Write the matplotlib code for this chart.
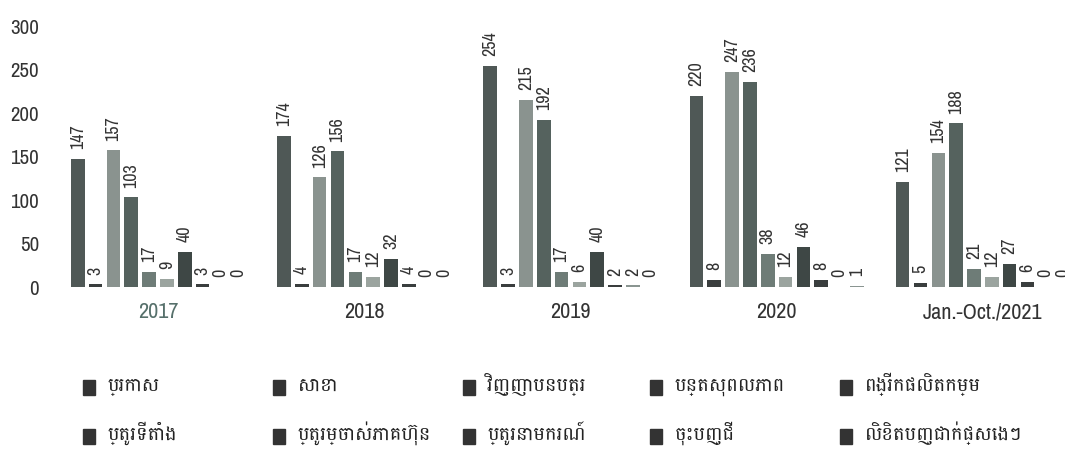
import numpy as np
import matplotlib
matplotlib.use('Agg')
import matplotlib.pyplot as plt
from matplotlib.patches import Rectangle

# categories (years) and the ten request types
years = ['2017', '2018', '2019', '2020', 'Jan.-Oct./2021']
labels = ['ប្រកាស', 'សាខា', 'វិញ្ញាបនបត្រ', 'បន្តសុពលភាព', 'ពង្រីកផលិតកម្ម',
          'ប្តូរទីតាំង', 'ប្តូរម្ចាស់ភាគហ៊ុន', 'ប្តូរនាមករណ៍', 'ចុះបញ្ជី', 'លិខិតបញ្ជាក់ផ្សេងៗ']

prakas = [147, 174, 254, 220, 121]
sakha = [3, 4, 3, 8, 5]
vinhhaban = [157, 126, 215, 247, 154]
bantsopol = [103, 156, 192, 236, 188]
pongrik = [17, 17, 17, 38, 21]
pdoteytang = [9, 12, 6, 12, 12]
pdomchas = [40, 32, 40, 46, 27]
pdonameakor = [3, 4, 2, 8, 6]
chohbanhchi = [0, 0, 2, 0, 0]
lekhet = [0, 0, 0, 1, 0]

series = [prakas, sakha, vinhhaban, bantsopol, pongrik,
          pdoteytang, pdomchas, pdonameakor, chohbanhchi, lekhet]
colors = ['#4f5856', '#3a3e3e', '#8a938f', '#55625e', '#6e7c77',
          '#9ba49f', '#3e4745', '#3a3e3e', '#8a9591', '#8a9591']

num_font = ['Liberation Sans Narrow', 'Archivo Narrow', 'DejaVu Sans']
khmer_font = ['Battambang', 'Khmer', 'DejaVu Sans']

fig = plt.figure(figsize=(10.65, 4.5), dpi=100)
ax = fig.add_axes([0.0535, 0.3622, 0.9465, 0.58])

x = np.arange(len(years))
slot = 0.0865
width = 0.066
for i, vals in enumerate(series):
    pos = x + (i - 4.5) * slot
    ax.bar(pos, vals, width, color=colors[i], label=labels[i])
    for px, v in zip(pos, vals):
        ax.annotate(str(v), (px, v), xytext=(0, 7), textcoords='offset points',
                    rotation=90, ha='center', va='bottom', fontsize=13,
                    color='#333333', family=num_font)

ax.set_xlim(-0.49, 4.398)
ax.set_ylim(0, 300)
ax.set_yticks([0, 50, 100, 150, 200, 250, 300])
ax.set_xticks(x)
ax.set_xticklabels(years)
ax.tick_params(axis='both', length=0)
ax.tick_params(axis='y', pad=13)
ax.tick_params(axis='x', pad=11)
for t in ax.get_yticklabels():
    t.set_family(num_font)
    t.set_fontsize(15)
    t.set_color('#333333')
for t in ax.get_xticklabels():
    t.set_family(num_font)
    t.set_fontsize(16)
    t.set_color('#333333')
ax.get_xticklabels()[0].set_color('#56706b')
for s in ax.spines.values():
    s.set_visible(False)

# legend drawn as a grid: 5 columns x 2 rows, dark square + Khmer label
W, H = 1065.0, 450.0
col_px = [83, 273, 463, 650, 840]
row_base = [391, 440]
for k, name in enumerate(labels):
    r, c = divmod(k, 5)
    x0 = col_px[c]
    yb = row_base[r]
    fig.patches.append(Rectangle((x0 / W, 1 - (yb + 4) / H), 12 / W, 15 / H,
                                 transform=fig.transFigure, color='#333333'))
    fig.text((x0 + 25) / W, 1 - yb / H, name, family=khmer_font, fontsize=14,
             color='#222222', va='baseline', ha='left')

fig.savefig('out.png', dpi=100)
